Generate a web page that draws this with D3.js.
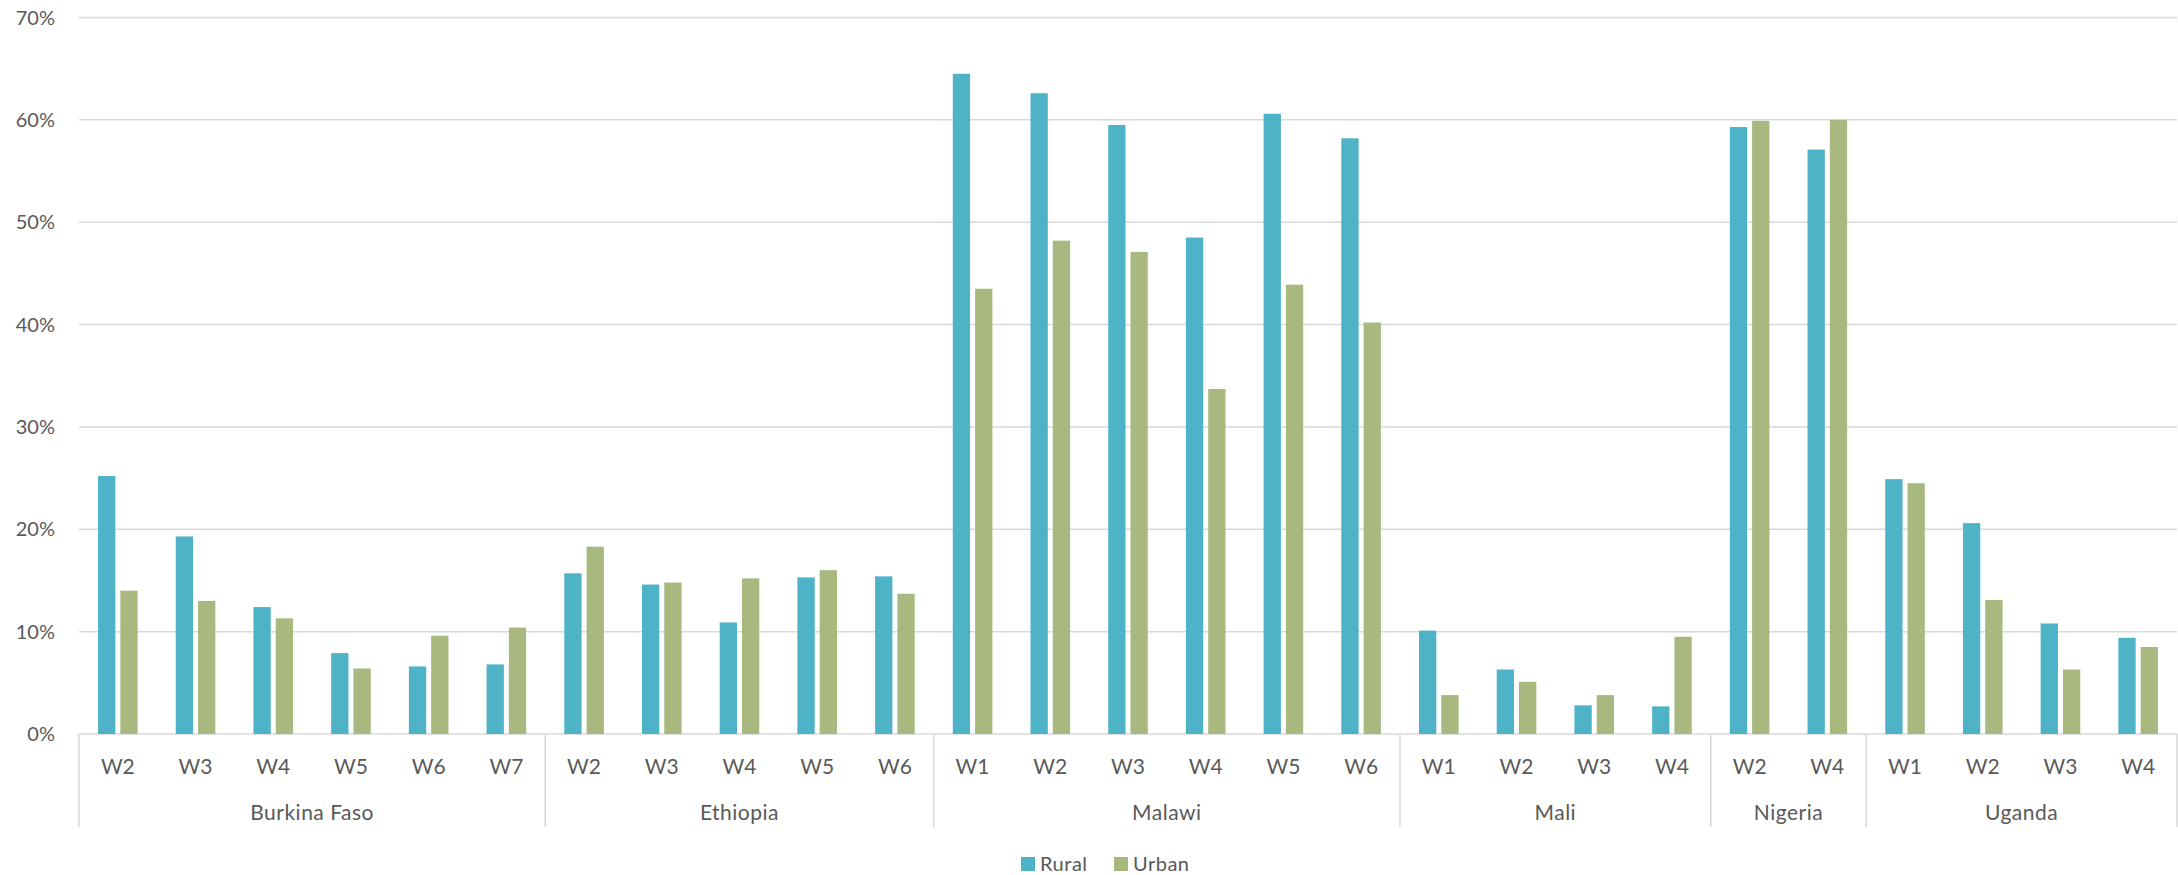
<!DOCTYPE html>
<html>
<head>
<meta charset="utf-8">
<script src="https://cdn.jsdelivr.net/npm/d3@7"></script>
<style>
  html, body { margin: 0; padding: 0; background: #fff; }
  svg { display: block; }
  text { font-family: Lato, "Open Sans", sans-serif; fill: #595959; }
</style>
</head>
<body>
<svg id="chart" width="2178" height="875"></svg>
<script>
// Countries and the survey waves available for each
const countries = ["Burkina Faso", "Ethiopia", "Malawi", "Mali", "Nigeria", "Uganda"];
const waves = [
  ["W2", "W3", "W4", "W5", "W6", "W7"],
  ["W2", "W3", "W4", "W5", "W6"],
  ["W1", "W2", "W3", "W4", "W5", "W6"],
  ["W1", "W2", "W3", "W4"],
  ["W2", "W4"],
  ["W1", "W2", "W3", "W4"]
];

// Shares (%) by country and wave, in the same order as above
const rural = [
  [25.2, 19.3, 12.4, 7.9, 6.6, 6.8],
  [15.7, 14.6, 10.9, 15.3, 15.4],
  [64.5, 62.6, 59.5, 48.5, 60.6, 58.2],
  [10.1, 6.3, 2.8, 2.7],
  [59.3, 57.1],
  [24.9, 20.6, 10.8, 9.4]
];
const urban = [
  [14.0, 13.0, 11.3, 6.4, 9.6, 10.4],
  [18.3, 14.8, 15.2, 16.0, 13.7],
  [43.5, 48.2, 47.1, 33.7, 43.9, 40.2],
  [3.8, 5.1, 3.8, 9.5],
  [59.9, 60.0],
  [24.5, 13.1, 6.3, 8.5]
];

const seriesNames = ["Rural", "Urban"];
const yTicks = [0, 10, 20, 30, 40, 50, 60, 70];
const colors = { Rural: "#4FB3C8", Urban: "#A8B87E" };

// Flatten into one row per country/wave
const rows = [];
countries.forEach((c, i) => {
  waves[i].forEach((w, j) => {
    rows.push({ key: c + "|" + w, country: c, wave: w, Rural: rural[i][j], Urban: urban[i][j] });
  });
});

const svg = d3.select("#chart");
const plotLeft = 79, plotRight = 2177, plotTop = 17.5, plotBottom = 734;

const x = d3.scaleBand().domain(rows.map(d => d.key)).range([plotLeft, plotRight]).padding(0);
const bw = x.bandwidth();
const x1 = d3.scaleBand().domain(seriesNames)
  .range([bw / 2 - 19.8, bw / 2 + 19.8]).paddingInner(0.224).paddingOuter(0);
const y = d3.scaleLinear().domain([0, 70]).range([plotBottom, plotTop]);

// Horizontal gridlines
svg.append("g").selectAll("line").data(yTicks).join("line")
  .attr("x1", plotLeft).attr("x2", plotRight)
  .attr("y1", d => y(d)).attr("y2", d => y(d))
  .attr("stroke", "#D9D9D9").attr("stroke-width", 1.5);

// Y tick labels
svg.append("g").selectAll("text").data(yTicks).join("text")
  .attr("x", 55).attr("y", d => y(d)).attr("dy", "0.36em")
  .attr("text-anchor", "end").attr("font-size", 20)
  .text(d => d + "%");

// Bars
const groups = svg.append("g").selectAll("g").data(rows).join("g")
  .attr("transform", d => `translate(${x(d.key)},0)`);
groups.selectAll("rect").data(d => seriesNames.map(s => ({ s, v: d[s] }))).join("rect")
  .attr("x", d => x1(d.s)).attr("width", x1.bandwidth())
  .attr("y", d => y(d.v)).attr("height", d => y(0) - y(d.v))
  .attr("fill", d => colors[d.s]);

// Wave labels
svg.append("g").selectAll("text").data(rows).join("text")
  .attr("x", d => x(d.key) + bw / 2).attr("y", 774)
  .attr("text-anchor", "middle").attr("font-size", 21)
  .text(d => d.wave);

// Country group separators and labels
const groupInfo = countries.map((c, i) => {
  const first = x(c + "|" + waves[i][0]);
  const last = x(c + "|" + waves[i][waves[i].length - 1]) + bw;
  return { c, first, last };
});
const sepX = groupInfo.map(g => g.first).concat([plotRight]);
svg.append("g").selectAll("line").data(sepX).join("line")
  .attr("x1", d => d).attr("x2", d => d)
  .attr("y1", plotBottom).attr("y2", 827)
  .attr("stroke", "#D9D9D9").attr("stroke-width", 1.5);
svg.append("g").selectAll("text").data(groupInfo).join("text")
  .attr("x", d => (d.first + d.last) / 2).attr("y", 820)
  .attr("text-anchor", "middle").attr("font-size", 21)
  .attr("letter-spacing", 0.5)
  .text(d => d.c);

// Legend
const legend = svg.append("g");
const legendPos = { Rural: 1021, Urban: 1114 };
seriesNames.forEach(s => {
  legend.append("rect").attr("x", legendPos[s]).attr("y", 857)
    .attr("width", 14).attr("height", 14).attr("fill", colors[s]);
  legend.append("text").attr("x", legendPos[s] + 19).attr("y", 871)
    .attr("font-size", 20).attr("letter-spacing", 0.5).text(s);
});
</script>
</body>
</html>
